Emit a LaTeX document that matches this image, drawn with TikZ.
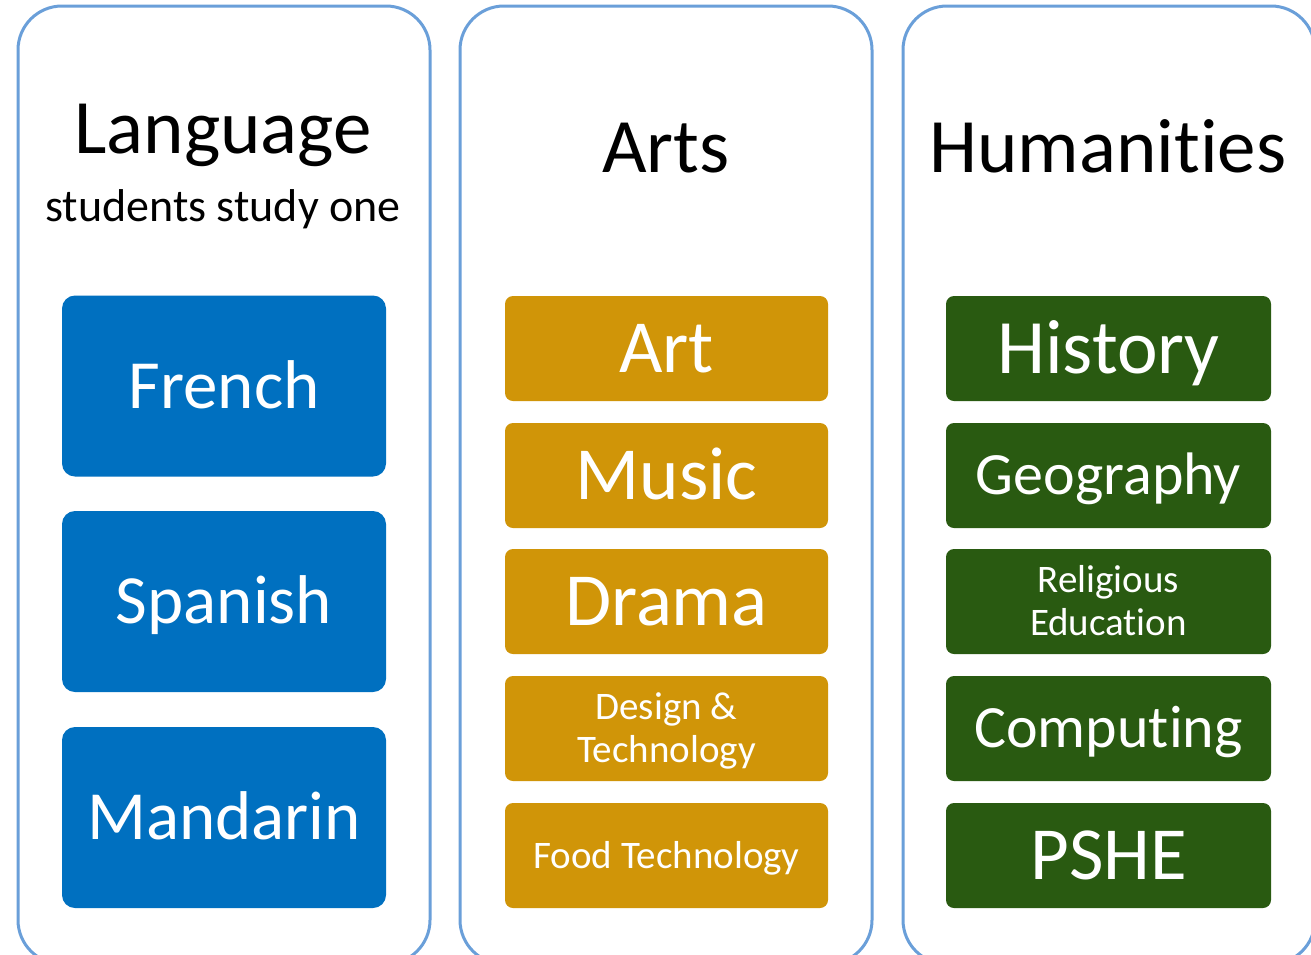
\documentclass[tikz,border=0pt]{standalone}
\usepackage{fontspec}
\setmainfont{Carlito}[Ligatures=NoCommon]
\definecolor{panelline}{HTML}{6A9FD9}
\definecolor{langblue}{HTML}{0070C0}
\definecolor{artgold}{HTML}{D09508}
\definecolor{humgreen}{HTML}{295A11}
\tikzset{
  panel/.style={draw=panelline, line width=3pt, rounded corners=44pt, fill=white},
  subj/.style={rectangle, inner sep=0pt, text=white, align=center},
  bluebox/.style={subj, fill=langblue, rounded corners=13pt, minimum width=324pt, minimum height=181pt},
  goldbox/.style={subj, fill=artgold, rounded corners=8pt, minimum width=323pt, minimum height=105pt},
  greenbox/.style={subj, fill=humgreen, rounded corners=8pt, minimum width=325pt, minimum height=105pt},
  fs/.style={font=\fontsize{#1}{#1}\selectfont, text height={0.644*#1pt}, text depth=0pt},
  twoline/.style={font=\fontsize{39}{43}\selectfont, text height=68pt, text depth=0pt},
  title/.style={anchor=base, text=black, inner sep=0pt}
}
\begin{document}
\begin{tikzpicture}[x=1pt, y=-1pt]
\useasboundingbox (0,0) rectangle (1311,954);
\clip (0,0) rectangle (1311,954);
\fill[white] (0,0) rectangle (1311,954);
% panels
\draw[panel] (18,6) rectangle (430,964);
\draw[panel] (460,6) rectangle (872,964);
\draw[panel] (903,6) rectangle (1315,964);
% titles
\node[title, font=\fontsize{77}{80}\selectfont] (langt) at (223,153) {Language};
\node[title, font=\fontsize{46}{50}\selectfont] (langsub) at (223,221) {students study one};
\node[title, font=\fontsize{77}{80}\selectfont] (artst) at (666,172) {Arts};
\node[title, font=\fontsize{77}{80}\selectfont] (humt) at (1108,172) {Humanit\kern0pt ies};
% language
\node[bluebox, fs=69] (french) at (224,386) {French};
\node[bluebox, fs=69] (spanish) at (224,601.5) {Spanish};
\node[bluebox, fs=69] (mandarin) at (224,817.5) {Mandarin};
% arts
\node[goldbox, fs=75] (art) at (666.5,348.5) {Art};
\node[goldbox, fs=75] (music) at (666.5,475.5) {Music};
\node[goldbox, fs=75] (drama) at (666.5,601.5) {Drama};
\node[goldbox, twoline] (design) at (666.5,728.5) {Design \&\\Technology};
\node[goldbox, fs=39] (food) at (666.5,855.5) {Food Technology};
% humanities
\node[greenbox, fs=77] (history) at (1108.5,348.5) {History};
\node[greenbox, fs=60] (geography) at (1108.5,475.5) {Geography};
\node[greenbox, twoline] (re) at (1108.5,601.5) {Religious\\Education};
\node[greenbox, fs=60] (computing) at (1108.5,728.5) {Comput\kern0pt ing};
\node[greenbox, fs=75] (pshe) at (1108.5,855.5) {PSHE};
\end{tikzpicture}
\end{document}
